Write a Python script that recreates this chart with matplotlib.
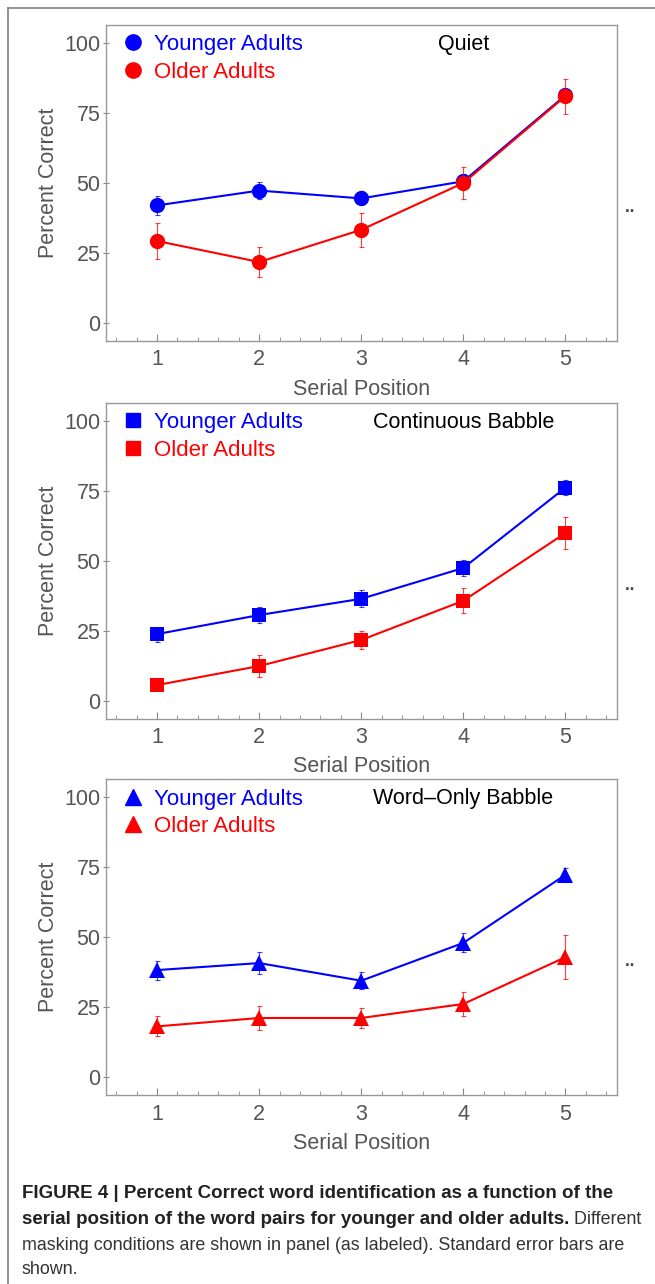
import numpy as np
import matplotlib
matplotlib.use('Agg')
import matplotlib.pyplot as plt
from matplotlib.lines import Line2D
from matplotlib.ticker import MultipleLocator

plt.rcParams['font.family'] = ['Liberation Sans', 'DejaVu Sans']

# data
positions = [1, 2, 3, 4, 5]
conditions = ['Quiet', 'Continuous Babble', 'Word\u2013Only Babble']
markers = ['o', 's', '^']

young_quiet = [42.0, 47.3, 44.5, 50.6, 81.3]
young_quiet_se = [3.5, 3.0, 2.5, 2.5, 2.2]
old_quiet = [29.3, 21.8, 33.3, 50.0, 81.0]
old_quiet_se = [6.5, 5.2, 6.0, 5.8, 6.3]

young_cont = [23.8, 30.6, 36.4, 47.4, 76.1]
young_cont_se = [2.7, 3.0, 3.0, 3.0, 2.8]
old_cont = [5.6, 12.4, 21.7, 35.7, 59.9]
old_cont_se = [1.5, 4.0, 3.2, 4.5, 5.6]

young_word = [38.3, 40.8, 34.5, 48.0, 72.3]
young_word_se = [3.4, 3.8, 3.0, 3.4, 2.6]
old_word = [18.2, 21.2, 21.2, 26.2, 42.9]
old_word_se = [3.6, 4.3, 3.6, 4.2, 7.8]

young = [young_quiet, young_cont, young_word]
young_se = [young_quiet_se, young_cont_se, young_word_se]
old = [old_quiet, old_cont, old_word]
old_se = [old_quiet_se, old_cont_se, old_word_se]

W, H = 655, 1284
fig = plt.figure(figsize=(W / 100, H / 100), dpi=100)

# thin border of the figure box
fig.add_artist(Line2D([8 / W, 1], [1 - 8 / H, 1 - 8 / H], color='#808080', lw=1.2))
fig.add_artist(Line2D([8 / W, 8 / W], [0, 1 - 8 / H], color='#808080', lw=1.2))

tops = [25, 402.7, 779.3]
gray = '#555555'
blue = '#0000ff'
red = '#ff0000'

for i in range(3):
    ax = fig.add_axes([106 / W, 1 - (tops[i] + 316) / H, 510.5 / W, 316 / H])
    msize = [11, 10, 11][i]
    for vals, se, col in [(young[i], young_se[i], blue), (old[i], old_se[i], red)]:
        ax.errorbar(positions, vals, yerr=se, fmt='none', ecolor=col,
                    elinewidth=0.8, capsize=1.8, capthick=0.8, alpha=0.75)
        ax.plot(positions, vals, color=col, lw=1.5, marker=markers[i],
                markersize=msize, markeredgewidth=0)
    ax.set_xlim(0.5, 5.5)
    ax.set_ylim(-6.4, 106.4)
    ax.set_xticks(positions)
    ax.xaxis.set_minor_locator(MultipleLocator(0.2))
    ax.set_yticks([0, 25, 50, 75, 100])
    ax.tick_params(axis='x', which='major', direction='in', length=5, width=0.8,
                   color='#888888', labelsize=15.5, labelcolor=gray, pad=6)
    ax.tick_params(axis='x', which='minor', direction='in', length=3, width=0.6,
                   color='#888888')
    ax.tick_params(axis='y', which='major', direction='inout', length=4, width=0.8,
                   color='#888888', labelsize=15.5, labelcolor=gray, pad=2)
    for s in ax.spines.values():
        s.set_color('#999999')
        s.set_linewidth(1.0)
    ax.set_xlabel('Serial Position', fontsize=15.5, color=gray, labelpad=6)
    ax.set_ylabel('Percent Correct', fontsize=15.5, color=gray, labelpad=4)

    handles = [Line2D([], [], color=blue, marker=markers[i], ls='none', markersize=msize),
               Line2D([], [], color=red, marker=markers[i], ls='none', markersize=msize)]
    ax.legend(handles, ['Younger Adults', 'Older Adults'], loc='upper left',
              bbox_to_anchor=(0.005, 1.02), frameon=False, fontsize=16,
              labelcolor=[blue, red], handlelength=0.8, handletextpad=0.55,
              labelspacing=0.3, borderaxespad=0.3)
    ax.text(0.70, 99.4, conditions[i], transform=ax.get_yaxis_transform(),
            ha='center', va='center', fontsize=15.5, color='black')
    ax.text(630 / W, 1 - [208, 586, 962][i] / H, '\u2025', transform=fig.transFigure,
            ha='center', va='center', fontsize=10, fontweight='bold', color='#444444')

# caption
bold_size = 13.5
reg_size = 12.9
fig.text(22 / W, 1 - 1194 / H, 'FIGURE 4 | Percent Correct word identification as a function of the',
         fontsize=bold_size, fontweight='bold', color='#222222', va='center')
t2 = fig.text(22 / W, 1 - 1220 / H, 'serial position of the word pairs for younger and older adults.',
              fontsize=bold_size, fontweight='bold', color='#222222', va='center')
fig.text(22 / W, 1 - 1245 / H,
         'masking conditions are shown in panel (as labeled). Standard error bars are',
         fontsize=reg_size, color='#333333', va='center')
fig.text(22 / W, 1 - 1270 / H, 'shown.', fontsize=reg_size, color='#333333', va='center')
ax.annotate(' Different', xy=(1, 0), xycoords=t2, va='bottom', ha='left', fontsize=reg_size,
            color='#333333', annotation_clip=False)

fig.savefig('out.png', dpi=100)
